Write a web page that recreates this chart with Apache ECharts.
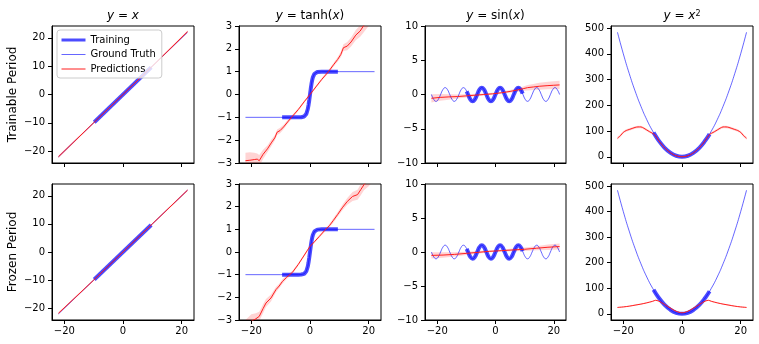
<!DOCTYPE html>
<html><head><meta charset="utf-8">
<script src="https://cdn.jsdelivr.net/npm/echarts@6/dist/echarts.min.js"></script>
<style>html,body{margin:0;padding:0;background:#fff}#c{width:759px;height:344px}</style>
</head><body><div id="c"></div>
<script>
// ---------- tick labels ----------
const xTicks = [-20, 0, 20];
const linTicks = [-20, -10, 0, 10, 20];
const tanhTicks = [-3, -2, -1, 0, 1, 2, 3];
const sinTicks = [-10, -5, 0, 5, 10];
const sqTicks = [0, 100, 200, 300, 400, 500];
const titles = ['{i|y} = {i|x}', '{i|y} = tanh({i|x})', '{i|y} = sin({i|x})', '{i|y} = {i|x}{s|2}'];
const rowLabels = ['Trainable Period', 'Frozen Period'];
const legendNames = ['Training', 'Ground Truth', 'Predictions'];

// ---------- ground truth ----------
const linGtX = [-22, 22];
const linGtY = [-22, 22];
const linTrX = [-9.8, 9.6];
const linTrY = [-9.8, 9.6];

const tanhGtX = [-22, -10, -4, -3, -2.5, -2, -1.5, -1.25, -1, -0.75, -0.5, -0.25, 0, 0.25, 0.5, 0.75, 1, 1.25, 1.5, 2, 2.5, 3, 4, 10, 22];
const tanhGtY = [-1, -1, -1, -0.995, -0.987, -0.964, -0.905, -0.848, -0.762, -0.635, -0.462, -0.245, 0, 0.245, 0.462, 0.635, 0.762, 0.848, 0.905, 0.964, 0.987, 0.995, 1, 1, 1];
const tanhTrX = [-9.5, -4, -3, -2.5, -2, -1.5, -1.25, -1, -0.75, -0.5, -0.25, 0, 0.25, 0.5, 0.75, 1, 1.25, 1.5, 2, 2.5, 3, 4, 9.5];
const tanhTrY = [-1, -1, -0.995, -0.987, -0.964, -0.905, -0.848, -0.762, -0.635, -0.462, -0.245, 0, 0.245, 0.462, 0.635, 0.762, 0.848, 0.905, 0.964, 0.987, 0.995, 1, 1];

const sinGtX = [-21.99, -21.21, -20.42, -19.63, -18.85, -18.06, -17.28, -16.49, -15.71, -14.92, -14.14, -13.35, -12.57, -11.78, -11.0, -10.21, -9.42, -8.64, -7.85, -7.07, -6.28, -5.5, -4.71, -3.93, -3.14, -2.36, -1.57, -0.79, 0, 0.79, 1.57, 2.36, 3.14, 3.93, 4.71, 5.5, 6.28, 7.07, 7.85, 8.64, 9.42, 10.21, 11.0, 11.78, 12.57, 13.35, 14.14, 14.92, 15.71, 16.49, 17.28, 18.06, 18.85, 19.63, 20.42, 21.21, 21.99];
const sinGtY = [0, -0.71, -1, -0.71, 0, 0.71, 1, 0.71, 0, -0.71, -1, -0.71, 0, 0.71, 1, 0.71, 0, -0.71, -1, -0.71, 0, 0.71, 1, 0.71, 0, -0.71, -1, -0.71, 0, 0.71, 1, 0.71, 0, -0.71, -1, -0.71, 0, 0.71, 1, 0.71, 0, -0.71, -1, -0.71, 0, 0.71, 1, 0.71, 0, -0.71, -1, -0.71, 0, 0.71, 1, 0.71, 0];
const sinTrX = [-9.9, -9.42, -8.64, -7.85, -7.07, -6.28, -5.5, -4.71, -3.93, -3.14, -2.36, -1.57, -0.79, 0, 0.79, 1.57, 2.36, 3.14, 3.93, 4.71, 5.5, 6.28, 7.07, 7.85, 8.64, 9.3];
const sinTrY = [0.46, 0, -0.71, -1, -0.71, 0, 0.71, 1, 0.71, 0, -0.71, -1, -0.71, 0, 0.71, 1, 0.71, 0, -0.71, -1, -0.71, 0, 0.71, 1, 0.71, 0.12];

const sqGtX = [-22, -20, -18, -16, -14, -12, -10, -8, -6, -4, -2, 0, 2, 4, 6, 8, 10, 12, 14, 16, 18, 20, 22];
const sqGtY = [484, 400, 324, 256, 196, 144, 100, 64, 36, 16, 4, 0, 4, 16, 36, 64, 100, 144, 196, 256, 324, 400, 484];
const sqTrX = [-9.7, -8, -6, -4, -2, 0, 2, 4, 6, 8, 9.4];
const sqTrY = [94, 64, 36, 16, 4, 0, 4, 16, 36, 64, 88];

// ---------- predictions (trainable period) ----------
const p1X = [-22, -10, 0, 10, 22];
const p1Y = [-22, -10, 0, 10, 22.2];
const p1W = [0.5, 0.3, 0.2, 0.3, 0.5];

const p2X = [-22, -20.5, -19, -18, -17.3, -16, -14.5, -13.2, -12, -11.2, -10.2, -9, -7.6, -6.3, -4, -2, 0, 2, 4, 6.3, 8, 9.4, 10.5, 11.4, 12.7, 14, 15.6, 17.1, 18.2, 20, 22];
const p2Y = [-2.9, -2.88, -2.85, -2.83, -2.9, -2.62, -2.38, -2.12, -1.9, -1.65, -1.58, -1.42, -1.2, -1.0, -0.66, -0.32, 0.0, 0.33, 0.66, 1.0, 1.3, 1.53, 1.75, 2.05, 2.12, 2.3, 2.6, 2.78, 3.0, 3.3, 3.6];
const p2W = [0.35, 0.35, 0.3, 0.25, 0.25, 0.2, 0.15, 0.15, 0.12, 0.12, 0.12, 0.1, 0.08, 0.07, 0.06, 0.05, 0.05, 0.05, 0.06, 0.07, 0.08, 0.1, 0.12, 0.15, 0.18, 0.2, 0.22, 0.25, 0.3, 0.3, 0.35];

const p3X = [-22, -19, -16, -13, -10, -7, -4, -1, 2, 5, 8, 9.5, 11, 13, 15, 18, 20, 22];
const p3Y = [-0.55, -0.42, -0.35, -0.3, -0.2, -0.1, 0.0, 0.1, 0.25, 0.45, 0.7, 0.85, 1.0, 1.1, 1.2, 1.3, 1.35, 1.4];
const p3W = [0.6, 0.5, 0.4, 0.3, 0.25, 0.2, 0.15, 0.15, 0.15, 0.2, 0.25, 0.3, 0.4, 0.45, 0.5, 0.55, 0.6, 0.6];

const p4X = [-22, -21, -20, -19, -18, -17, -16, -15, -14, -13, -12, -11, -10, -9.3, -8, -7, -6, -5, -4, -3, -2, -1, 0, 1, 2, 3, 4, 5, 6, 7, 8, 9.3, 10, 11, 12, 13, 14, 15, 16, 17, 18, 19, 20, 21, 22];
const p4Y = [72, 82, 95, 102, 106, 110, 114, 116, 116, 111, 104, 97, 91, 86, 64, 49, 36, 25, 16, 9, 4, 1, 0, 1, 4, 9, 16, 25, 36, 49, 64, 86, 91, 97, 104, 111, 116, 116, 114, 110, 106, 102, 95, 82, 72];
const p4W = [6, 6, 5, 5, 5, 5, 5, 5, 5, 5, 5, 5, 4, 4, 3, 3, 3, 3, 3, 3, 3, 3, 3, 3, 3, 3, 3, 3, 3, 3, 3, 4, 4, 5, 5, 5, 5, 5, 5, 5, 5, 5, 5, 6, 6];

// ---------- predictions (frozen period) ----------
const p5X = [-22, -10, 0, 10, 22];
const p5Y = [-21.8, -10, 0, 10, 22];
const p5W = [0.4, 0.3, 0.2, 0.3, 0.4];

const p6X = [-22, -20, -18.5, -17.3, -16, -15, -13.3, -11.6, -10.5, -9.4, -8, -6, -4, -2.6, -1, 0, 1.5, 3.2, 5, 6.6, 8, 9.4, 11, 12.7, 14.5, 16.2, 17.3, 18.4, 20, 22];
const p6Y = [-3.3, -3.05, -2.95, -2.84, -2.5, -2.25, -2.03, -1.66, -1.5, -1.3, -1.12, -0.9, -0.55, -0.27, 0.05, 0.25, 0.45, 0.69, 0.95, 1.16, 1.4, 1.65, 1.95, 2.23, 2.45, 2.53, 2.75, 2.97, 3.2, 3.5];
const p6W = [0.3, 0.3, 0.25, 0.2, 0.2, 0.18, 0.15, 0.12, 0.1, 0.1, 0.08, 0.07, 0.06, 0.05, 0.05, 0.05, 0.05, 0.06, 0.07, 0.08, 0.1, 0.1, 0.12, 0.15, 0.2, 0.22, 0.25, 0.25, 0.3, 0.3];

const p7X = [-22, -18, -14, -10, -6, -2, 0, 2, 6, 10, 14, 18, 22];
const p7Y = [-0.5, -0.45, -0.35, -0.2, -0.05, 0.1, 0.15, 0.2, 0.3, 0.4, 0.55, 0.7, 0.8];
const p7W = [0.45, 0.4, 0.3, 0.25, 0.2, 0.15, 0.15, 0.15, 0.2, 0.25, 0.3, 0.4, 0.45];

const p8X = [-22, -20, -18, -16, -14, -12, -10, -9, -8, -7, -6, -5, -4, -3, -2, -1, 0, 1, 2, 3, 4, 5, 6, 7, 8, 9, 10, 12, 14, 16, 18, 20, 22];
const p8Y = [25, 27, 30, 34, 38, 43, 49, 53, 50, 44, 37, 30, 23, 16, 10, 6, 4, 6, 10, 16, 23, 30, 37, 44, 50, 53, 49, 43, 38, 34, 30, 27, 25];
const p8W = [2, 2, 2, 2, 2, 2, 2, 2, 2, 2, 2, 2, 2, 2, 2, 2, 2, 2, 2, 2, 2, 2, 2, 2, 2, 2, 2, 2, 2, 2, 2, 2, 2];

// ---------- build ----------
const colLeft = [52, 239, 425, 611];
const colW = [142, 142, 141, 142];
const rowTop = [26, 184];
const rowH = [137, 136];
const FONT = 'DejaVu Sans';

const kinds = [
  {gtX: linGtX, gtY: linGtY, trX: linTrX, trY: linTrY, min: -24.2, max: 24.2, ticks: linTicks, smooth: false},
  {gtX: tanhGtX, gtY: tanhGtY, trX: tanhTrX, trY: tanhTrY, min: -3, max: 3, ticks: tanhTicks, smooth: false},
  {gtX: sinGtX, gtY: sinGtY, trX: sinTrX, trY: sinTrY, min: -10, max: 10, ticks: sinTicks, smooth: true},
  {gtX: sqGtX, gtY: sqGtY, trX: sqTrX, trY: sqTrY, min: -24.2, max: 508.2, ticks: sqTicks, smooth: true}
];
const preds = [
  [[p1X, p1Y, p1W], [p2X, p2Y, p2W], [p3X, p3Y, p3W], [p4X, p4Y, p4W]],
  [[p5X, p5Y, p5W], [p6X, p6Y, p6W], [p7X, p7Y, p7W], [p8X, p8Y, p8W]]
];

const zip = (a, b) => a.map((v, i) => [v, b[i]]);
const fmt = v => (v < 0 ? '\u2212' + Math.abs(v) : String(v));

const grid = [], xAxis = [], yAxis = [], series = [], title = [];
const BLUE_T = 'rgba(0,0,255,0.7)';
const BLUE_G = 'rgba(0,0,255,0.6)';
const RED = '#ff1f1f';
const BAND = 'rgba(255,0,0,0.17)';

function bandSeries(gi, pX, pY, pW) {
  return {
    type: 'custom', name: 'band-' + gi, xAxisIndex: gi, yAxisIndex: gi, silent: true,
    data: pX.map((x, i) => [x, pY[i] - pW[i], pY[i] + pW[i]]),
    encode: {x: 0, y: [1, 2]},
    renderItem: (params, api) => {
      if (params.dataIndex !== 0) return null;
      const up = pX.map((x, i) => api.coord([x, pY[i] + pW[i]]));
      const lo = pX.map((x, i) => api.coord([x, pY[i] - pW[i]])).reverse();
      const cs = params.coordSys;
      return {
        type: 'polygon', shape: {points: up.concat(lo)}, style: {fill: BAND},
        clipPath: {type: 'rect', shape: {x: cs.x, y: cs.y, width: cs.width, height: cs.height}}
      };
    }
  };
}

for (let r = 0; r < 2; r++) {
  for (let c = 0; c < 4; c++) {
    const gi = r * 4 + c;
    const k = kinds[c];
    grid.push({left: colLeft[c], top: rowTop[r], width: colW[c], height: rowH[r], show: true,
      borderColor: '#000', borderWidth: 1, backgroundColor: 'transparent', outerBoundsMode: 'none', containLabel: false});
    xAxis.push({type: 'value', gridIndex: gi, min: -24.2, max: 24.2, splitLine: {show: false},
      axisLine: {show: true, onZero: false, lineStyle: {color: '#000', width: 1}},
      axisTick: {show: true, length: 4, customValues: xTicks, lineStyle: {color: '#000'}},
      axisLabel: {show: r === 1, customValues: xTicks, formatter: fmt, color: '#000', fontSize: 10, fontFamily: FONT, margin: 6}});
    const ya = {type: 'value', gridIndex: gi, min: k.min, max: k.max, splitLine: {show: false},
      axisLine: {show: true, onZero: false, lineStyle: {color: '#000', width: 1}},
      axisTick: {show: true, length: 4, customValues: k.ticks, lineStyle: {color: '#000'}},
      axisLabel: {show: true, customValues: k.ticks, formatter: fmt, color: '#000', fontSize: 10, fontFamily: FONT, margin: 7}};
    if (c === 0) {
      Object.assign(ya, {name: rowLabels[r], nameLocation: 'middle', nameGap: 33, nameRotate: 90, nameMoveOverlap: false,
        nameTextStyle: {fontSize: 12, fontFamily: FONT, color: '#000'}});
    }
    yAxis.push(ya);

    const [pX, pY, pW] = preds[r][c];
    const sm = c === 3 ? 0.3 : false;
    series.push(bandSeries(gi, pX, pY, pW));
    series.push({type: 'line', name: 'Ground Truth', xAxisIndex: gi, yAxisIndex: gi, symbol: 'none', smooth: k.smooth,
      color: BLUE_G, lineStyle: {width: 1, color: BLUE_G}, data: zip(k.gtX, k.gtY)});
    series.push({type: 'line', name: 'Training', xAxisIndex: gi, yAxisIndex: gi, symbol: 'none', smooth: k.smooth,
      color: BLUE_T, lineStyle: {width: 4, color: BLUE_T, cap: 'butt'}, data: zip(k.trX, k.trY)});
    series.push({type: 'line', name: 'Predictions', xAxisIndex: gi, yAxisIndex: gi, symbol: 'none', smooth: sm,
      color: RED, lineStyle: {width: 1, color: RED}, data: zip(pX, pY)});
  }
}

const colCenter = colLeft.map((l, i) => l + colW[i] / 2);
for (let c = 0; c < 4; c++) {
  title.push({text: titles[c], left: colCenter[c], top: 10, textAlign: 'center', padding: 0,
    textStyle: {fontSize: 12, fontFamily: FONT, fontWeight: 'normal', color: '#000',
      rich: {i: {fontStyle: 'italic', fontSize: 12, fontFamily: FONT, color: '#000'},
             s: {fontSize: 8, fontFamily: FONT, color: '#000', verticalAlign: 'top'}}}});
}

const hiddenSym = {opacity: 0, borderWidth: 0};
const option = {
  animation: false,
  backgroundColor: '#fff',
  title,
  legend: {left: 57, top: 30, orient: 'vertical', padding: [5, 6, 4, 3], itemGap: 4.5, itemWidth: 24, itemHeight: 10,
    backgroundColor: 'rgba(255,255,255,0.8)', borderColor: '#cccccc', borderWidth: 1, borderRadius: 3,
    selectedMode: false, textStyle: {fontSize: 10, fontFamily: FONT, color: '#000'},
    data: [
      {name: legendNames[0], lineStyle: {width: 3}, itemStyle: hiddenSym},
      {name: legendNames[1], lineStyle: {width: 1}, itemStyle: hiddenSym},
      {name: legendNames[2], lineStyle: {width: 1}, itemStyle: hiddenSym}
    ]},
  grid, xAxis, yAxis, series
};
const chart = echarts.init(document.getElementById('c'), null, {renderer: 'canvas'});
chart.setOption(option);
</script></body></html>
